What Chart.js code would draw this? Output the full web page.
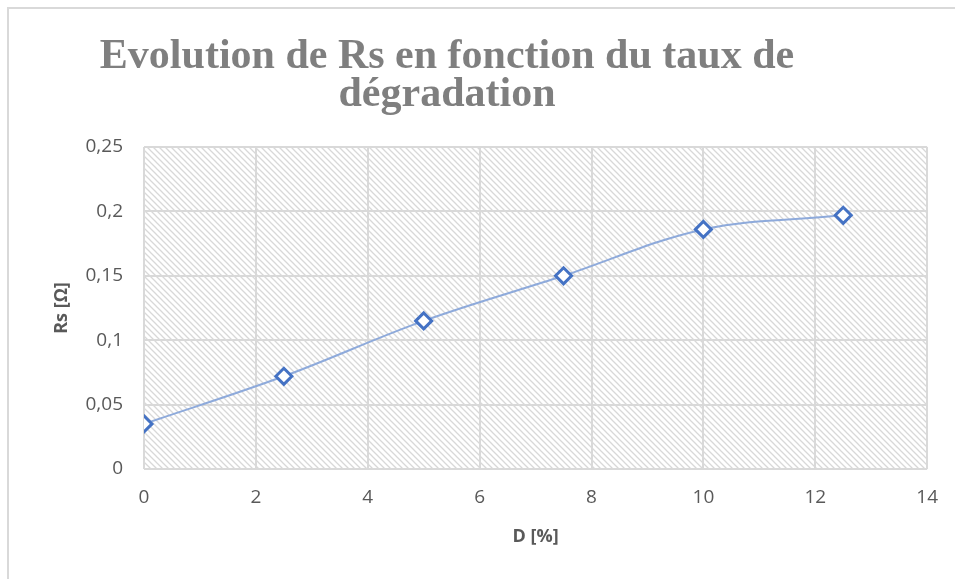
<!DOCTYPE html>
<html>
<head>
<meta charset="utf-8">
<script src="https://cdn.jsdelivr.net/npm/chart.js@4/dist/chart.umd.min.js"></script>
<style>
  html, body { margin: 0; padding: 0; background: #ffffff; }
  #wrap { width: 955px; height: 579px; position: relative; }
</style>
</head>
<body>
<div id="wrap"><canvas id="rsChart" width="955" height="579"></canvas></div>
<script>
const degradation = [0, 2.5, 5, 7.5, 10, 12.5];
const rsValues = [0.035, 0.072, 0.115, 0.15, 0.186, 0.197];
const titleLines = ["Evolution de Rs en fonction du taux de", "dégradation"];
const xTitle = "D [%]";
const yTitle = "Rs [Ω]";

// diagonal hatch used as plot background
function makeHatch() {
  const c = document.createElement("canvas");
  c.width = 6;
  c.height = 6;
  const g = c.getContext("2d");
  g.strokeStyle = "#d8d8d8";
  g.lineWidth = 1.3;
  g.beginPath();
  g.moveTo(-1, -1);
  g.lineTo(7, 7);
  g.moveTo(-4, 2);
  g.lineTo(4, 10);
  g.moveTo(2, -4);
  g.lineTo(10, 4);
  g.stroke();
  return c;
}

const frameAndTitle = {
  id: "frameAndTitle",
  beforeDraw(chart) {
    const ctx = chart.ctx;
    const a = chart.chartArea;
    ctx.save();
    // outer frame (top and left edges only)
    ctx.strokeStyle = "#d9d9d9";
    ctx.lineWidth = 2;
    ctx.beginPath();
    ctx.moveTo(955, 8);
    ctx.lineTo(8, 8);
    ctx.lineTo(8, 579);
    ctx.stroke();
    ctx.fillStyle = ctx.createPattern(makeHatch(), "repeat");
    ctx.fillRect(a.left, a.top, a.right - a.left, a.bottom - a.top);
    ctx.restore();
  },
  afterDraw(chart) {
    const ctx = chart.ctx;
    ctx.save();
    ctx.fillStyle = "#7f7f7f";
    ctx.font = "bold 42px 'Liberation Serif', 'Times New Roman', serif";
    ctx.textAlign = "center";
    ctx.textBaseline = "alphabetic";
    ctx.fillText(titleLines[0], 447, 68);
    ctx.fillText(titleLines[1], 447, 106);
    ctx.restore();
  },
};

const fmt = (v) => String(v).replace(".", ",");
const tickFont = { family: "'Open Sans', sans-serif", size: 19 };
const axisTitleFont = { family: "'Open Sans', sans-serif", size: 18, weight: "bold" };

const rsCtx = document.getElementById("rsChart").getContext("2d");
const rsChart = new Chart(rsCtx, {
  type: "line",
  data: {
    datasets: [
      {
        label: "Rs",
        data: degradation.map((d, i) => ({ x: d, y: rsValues[i] })),
        borderColor: "#8eaadb",
        borderWidth: 2,
        tension: 0.35,
        pointStyle: "rectRot",
        pointRadius: 8,
        pointHoverRadius: 8,
        pointBackgroundColor: "#ffffff",
        pointBorderColor: "#4472c4",
        pointBorderWidth: 3,
        fill: false,
      },
    ],
  },
  options: {
    responsive: false,
    animation: false,
    layout: { padding: { left: 0, right: 27, top: 147, bottom: 27 } },
    plugins: {
      legend: { display: false },
      tooltip: { enabled: false },
      title: { display: false },
    },
    scales: {
      x: {
        type: "linear",
        min: 0,
        max: 14,
        ticks: {
          stepSize: 2,
          color: "#595959",
          font: tickFont,
          padding: 17,
          callback: fmt,
        },
        grid: { color: "#d9d9d9", lineWidth: 2, drawTicks: false },
        border: { display: false },
        title: {
          display: true,
          text: xTitle,
          color: "#595959",
          font: axisTitleFont,
          padding: { top: 4, bottom: 4 },
        },
        afterFit(scale) {
          scale.height = 83;
        },
      },
      y: {
        min: 0,
        max: 0.25,
        ticks: {
          stepSize: 0.05,
          color: "#595959",
          font: tickFont,
          padding: 21,
          callback: fmt,
        },
        grid: { color: "#d9d9d9", lineWidth: 2, drawTicks: false },
        border: { display: false },
        title: {
          display: true,
          text: yTitle,
          color: "#595959",
          font: axisTitleFont,
          padding: { top: 51, bottom: 0 },
        },
        afterFit(scale) {
          scale.width = 144;
        },
      },
    },
  },
  plugins: [frameAndTitle],
});
</script>
</body>
</html>
